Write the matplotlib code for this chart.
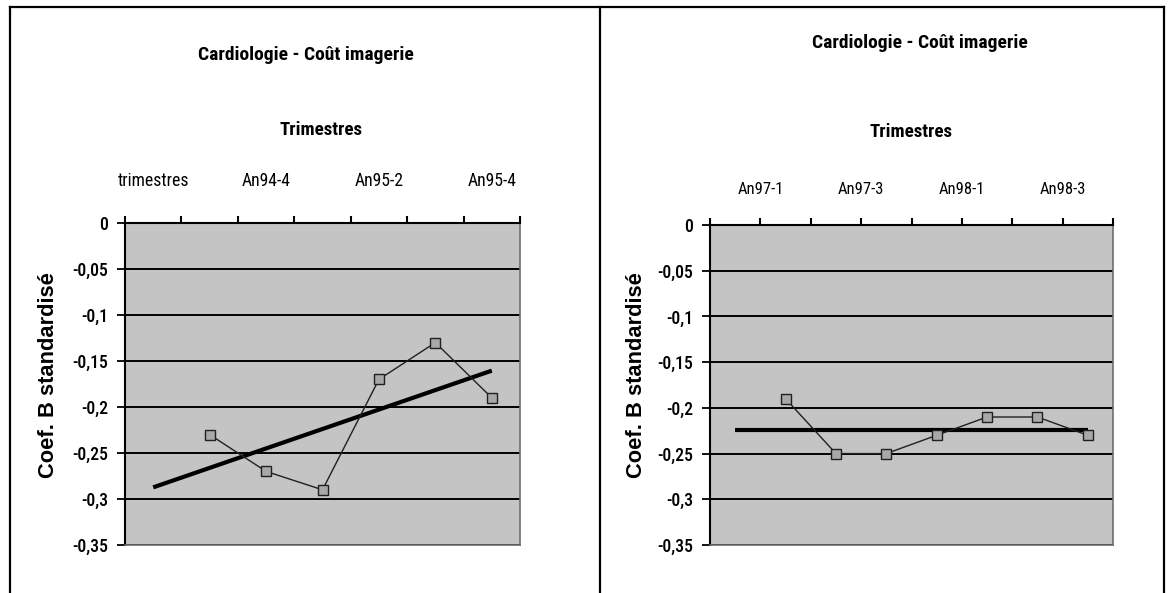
import numpy as np
import matplotlib
matplotlib.use("Agg")
import matplotlib.pyplot as plt
from matplotlib.lines import Line2D

W, H = 1170, 593

chart_title = "Cardiologie - Coût imagerie"
axis_title = "Trimestres"
value_title = "Coef. B standardisé"

# Left panel: first category is the header cell "trimestres" (no value)
left_categories = ["trimestres", "An94-3", "An94-4", "An95-1", "An95-2", "An95-3", "An95-4"]
left_values = [np.nan, -0.23, -0.27, -0.29, -0.17, -0.13, -0.19]
left_tick_labels = ["trimestres", "An94-4", "An95-2", "An95-4"]

# Right panel: eight categories, first one empty
right_values = [np.nan, -0.19, -0.25, -0.25, -0.23, -0.21, -0.21, -0.23]
right_tick_labels = ["An97-1", "An97-3", "An98-1", "An98-3"]

y_ticks = [0, -0.05, -0.1, -0.15, -0.2, -0.25, -0.3, -0.35]
y_tick_labels = ["0", "-0,05", "-0,1", "-0,15", "-0,2", "-0,25", "-0,3", "-0,35"]

NARROW = dict(family=["Roboto Condensed", "Liberation Sans Narrow", "DejaVu Sans"], stretch="condensed")
SANS = dict(family=["Liberation Sans", "DejaVu Sans"])
PLOT_BG = "#c4c4c4"


def fx(px):
    return px / W


def fy(py):
    return 1 - py / H


fig = plt.figure(figsize=(W / 100, H / 100), dpi=100)
fig.patch.set_facecolor("white")
renderer = fig.canvas.get_renderer()


def size_for(text, width_px, weight="normal", font=NARROW):
    """Font size (pt) that makes `text` about `width_px` pixels wide."""
    probe = fig.text(0, 0, text, fontsize=20, fontweight=weight, **font)
    w = probe.get_window_extent(renderer).width
    probe.remove()
    return 20 * width_px / w


TITLE_FS = size_for(chart_title, 214, "bold")
SUB_FS = size_for(axis_title, 82, "bold")
YTICK_FS = size_for("-0,05", 36, "medium")
LEFT_CAT_FS = size_for("An94-4", 49)
RIGHT_CAT_FS = size_for("An97-1", 46)
YLAB_FS = size_for(value_title, 205, "bold", SANS)


def draw_panel(rect_px, values, label_pos, labels, cat_fs, title_xy, sub_xy, tick_label_y, ylab_x):
    x0, y0, x1, y1 = rect_px
    ax = fig.add_axes([fx(x0), fy(y1), fx(x1) - fx(x0), fy(y0) - fy(y1)])
    n = len(values)
    x = np.arange(1, n + 1)
    vals = np.array(values, dtype=float)

    ax.set_facecolor(PLOT_BG)
    ax.set_xlim(0.5, n + 0.5)
    ax.set_ylim(-0.35, 0)

    # value axis with horizontal gridlines
    ax.set_yticks(y_ticks)
    ax.set_yticklabels(y_tick_labels, fontsize=YTICK_FS, fontweight="medium", **NARROW)
    ax.yaxis.grid(True, color="black", lw=1.4)
    ax.set_axisbelow(True)
    ax.tick_params(axis="y", which="major", direction="out", length=6, width=1.3,
                   color="black", pad=6)

    # category axis on top, ticks on the category boundaries
    ax.xaxis.remove_overlapping_locs = False
    ax.xaxis.tick_top()
    ax.set_xticks(np.arange(0.5, n + 1, 1.0))
    ax.set_xticklabels([])
    ax.tick_params(axis="x", which="major", direction="out", length=5, width=1.5, color="black")
    ax.set_xticks(label_pos, minor=True)
    ax.set_xticklabels(labels, minor=True, fontsize=cat_fs, **NARROW)
    pad_pts = (y0 - tick_label_y) * 72 / 100 - cat_fs * 0.45
    ax.tick_params(axis="x", which="minor", length=0, top=True, bottom=False,
                   labeltop=True, labelbottom=False, pad=pad_pts)

    for side in ("left", "top"):
        ax.spines[side].set_color("black")
        ax.spines[side].set_linewidth(1.5)
    for side in ("right", "bottom"):
        ax.spines[side].set_color("#6e6e6e")
        ax.spines[side].set_linewidth(1.2)

    # data series
    ok = ~np.isnan(vals)
    ax.plot(x[ok], vals[ok], color="#202020", lw=1.0, marker="s", markersize=7.5,
            markerfacecolor="#a8a8a8", markeredgecolor="#202020", markeredgewidth=1.0, zorder=4)

    # linear trend over the filled categories, drawn across all categories
    coef = np.polyfit(x[ok], vals[ok], 1)
    ax.plot([x[0], x[-1]], np.polyval(coef, [x[0], x[-1]]), color="black", lw=3.0,
            solid_capstyle="butt", zorder=3)

    # titles
    fig.text(fx(title_xy[0]), fy(title_xy[1]), chart_title, fontsize=TITLE_FS,
             fontweight="bold", ha="center", va="center", **NARROW)
    fig.text(fx(sub_xy[0]), fy(sub_xy[1]), axis_title, fontsize=SUB_FS,
             fontweight="bold", ha="center", va="center", **NARROW)
    fig.text(fx(ylab_x), fy(478), value_title, fontsize=YLAB_FS, fontweight="bold",
             rotation=90, rotation_mode="anchor", ha="left", va="center", **SANS)
    return ax


draw_panel((125, 223, 520, 545), left_values, [1, 3, 5, 7], left_tick_labels, LEFT_CAT_FS,
           (306, 55), (321, 130), 182, 49)

draw_panel((710, 225, 1113, 545), right_values, [1.5, 3.5, 5.5, 7.5], right_tick_labels, RIGHT_CAT_FS,
           (920, 43), (911, 132), 190, 636)

# page frame around both panels
frame_kw = dict(color="black", lw=1.6, transform=fig.transFigure)
fig.add_artist(Line2D([fx(10), fx(1164)], [fy(7), fy(7)], **frame_kw))
fig.add_artist(Line2D([fx(10), fx(10)], [fy(7), fy(593)], **frame_kw))
fig.add_artist(Line2D([fx(600), fx(600)], [fy(7), fy(593)], **frame_kw))
fig.add_artist(Line2D([fx(1164), fx(1164)], [fy(7), fy(593)], **frame_kw))

fig.savefig("out.png", dpi=100, facecolor="white")
